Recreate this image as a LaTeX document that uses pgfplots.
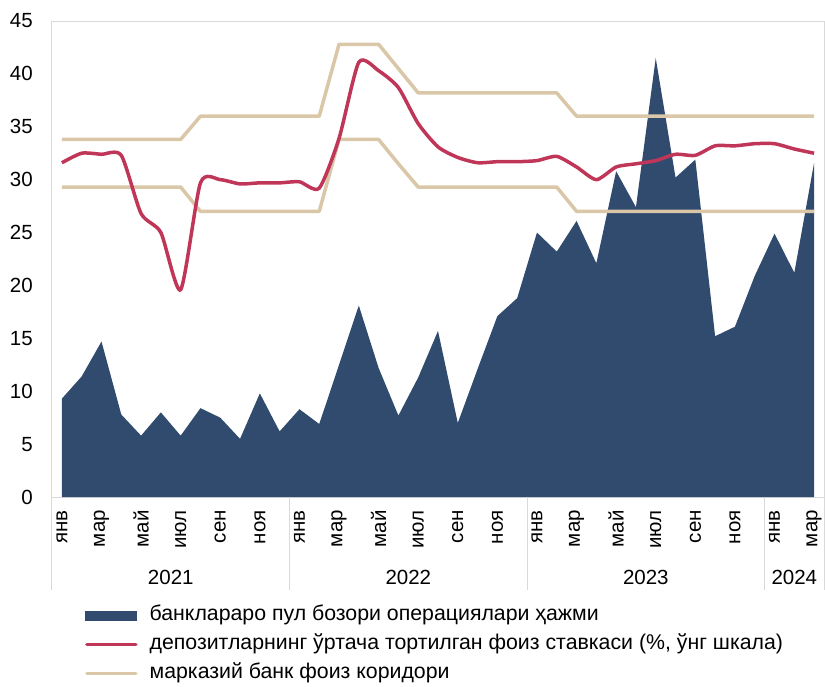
\documentclass[border=0pt]{standalone}
\usepackage{fontspec}
\setmainfont{Liberation Sans}
\usepackage{pgfplots}
\pgfplotsset{compat=1.18}
\usepackage{pgfplotstable}
\definecolor{areablue}{RGB}{49,75,111}
\definecolor{depred}{RGB}{192,54,88}
\definecolor{corr}{RGB}{217,199,168}
\definecolor{axgray}{RGB}{217,217,217}

\pgfplotstableread{
x vol
0 9.3
1 11.4
2 14.7
3 7.8
4 5.8
5 8.0
6 5.8
7 8.4
8 7.5
9 5.5
10 9.8
11 6.2
12 8.3
13 6.9
14 12.5
15 18.1
16 12.2
17 7.7
18 11.3
19 15.7
20 7.0
21 12.1
22 17.1
23 18.8
24 25.0
25 23.2
26 26.1
27 22.1
28 30.8
29 27.4
30 41.5
31 30.2
32 31.9
33 15.2
34 16.1
35 20.9
36 24.9
37 21.2
38 31.6
}\volume

\pgfplotstableread{
x rate up low
0 31.6 33.8 29.3
1 32.5 33.8 29.3
2 32.4 33.8 29.3
3 32.3 33.8 29.3
4 26.8 33.8 29.3
5 25.0 33.8 29.3
6 19.6 33.8 29.3
7 29.7 36.0 27.0
8 30.0 36.0 27.0
9 29.6 36.0 27.0
10 29.7 36.0 27.0
11 29.7 36.0 27.0
12 29.8 36.0 27.0
13 29.2 36.0 27.0
14 33.9 42.8 33.8
15 41.1 42.8 33.8
16 40.3 42.8 33.8
17 38.7 40.5 31.5
18 35.3 38.2 29.3
19 33.1 38.2 29.3
20 32.1 38.2 29.3
21 31.6 38.2 29.3
22 31.7 38.2 29.3
23 31.7 38.2 29.3
24 31.8 38.2 29.3
25 32.2 38.2 29.3
26 31.2 36.0 27.0
27 30.0 36.0 27.0
28 31.2 36.0 27.0
29 31.5 36.0 27.0
30 31.8 36.0 27.0
31 32.4 36.0 27.0
32 32.3 36.0 27.0
33 33.2 36.0 27.0
34 33.2 36.0 27.0
35 33.4 36.0 27.0
36 33.4 36.0 27.0
37 32.9 36.0 27.0
38 32.5 36.0 27.0
}\rates

\begin{document}
\begin{tikzpicture}[font=\fontsize{20.5}{24}\selectfont]
\useasboundingbox (-52pt,-189pt) rectangle (773pt,497pt);
\begin{axis}[
  at={(0,0)}, anchor=south west,
  scale only axis, width=772pt, height=476pt,
  xmin=-0.5, xmax=38.5, ymin=0, ymax=45,
  ytick={0,5,...,45},
  xtick={0,2,...,38},
  xticklabels={янв,мар,май,июл,сен,ноя,янв,мар,май,июл,сен,ноя,янв,мар,май,июл,сен,ноя,янв,мар},
  major tick length=0pt,
  axis line style={draw=axgray, line width=1pt},
  /pgf/number format/assume math mode=true,
  tick label style={font=\fontsize{20.5}{24}\selectfont, inner sep=0pt},
  yticklabel style={anchor=east},
  yticklabel shift=19pt,
  xticklabel style={rotate=90, anchor=east},
  xticklabel shift=13pt,
  clip=false,
  legend style={draw=none, fill=none, at={(axis description cs:0.0427,-0.23)}, anchor=north west,
    font=\fontsize{21.3}{25}\selectfont, row sep=11pt, column sep=12pt, inner sep=0pt,
    nodes={inner sep=0pt, text height=14pt, text depth=4pt}},
  legend cell align=left,
]
\addplot[fill=areablue, draw=none,
  legend image code/.code={\fill[areablue] (0pt,-5pt) rectangle (52pt,5pt);}]
  table[x=x, y=vol]{\volume} \closedcycle;
\addlegendentry{банклараро пул бозори операциялари ҳажми}
\addplot[corr, line width=3.5pt, line join=round, forget plot] table[x=x, y=up]{\rates};
\addplot[corr, line width=3.5pt, line join=round, forget plot] table[x=x, y=low]{\rates};
\addplot[depred, line width=3.5pt, smooth, tension=0.4,
  legend image code/.code={\draw[depred, line width=3.5pt, line cap=round] (1.5pt,0pt) -- (50.5pt,0pt);}]
  table[x=x, y=rate]{\rates};
\addlegendentry{депозитларнинг ўртача тортилган фоиз ставкаси (\%, ўнг шкала)}
\addlegendimage{corr, line width=3.5pt, legend image code/.code={\draw[corr, line width=3.5pt, line cap=round] (1.5pt,0pt) -- (50.5pt,0pt);}}
\addlegendentry{марказий банк фоиз коридори}
\draw[axgray, line width=1pt] (axis cs:-0.5,0) -- ++(0pt,-93pt);
\draw[axgray, line width=1pt] (axis cs:11.5,0) -- ++(0pt,-93pt);
\draw[axgray, line width=1pt] (axis cs:23.5,0) -- ++(0pt,-93pt);
\draw[axgray, line width=1pt] (axis cs:35.5,0) -- ++(0pt,-93pt);
\draw[axgray, line width=1pt] (axis cs:38.5,0) -- ++(0pt,-93pt);
\node at ([yshift=-80pt]axis cs:5.5,0) {2021};
\node at ([yshift=-80pt]axis cs:17.5,0) {2022};
\node at ([yshift=-80pt]axis cs:29.5,0) {2023};
\node at ([yshift=-80pt]axis cs:37,0) {2024};
\end{axis}
\end{tikzpicture}
\end{document}
